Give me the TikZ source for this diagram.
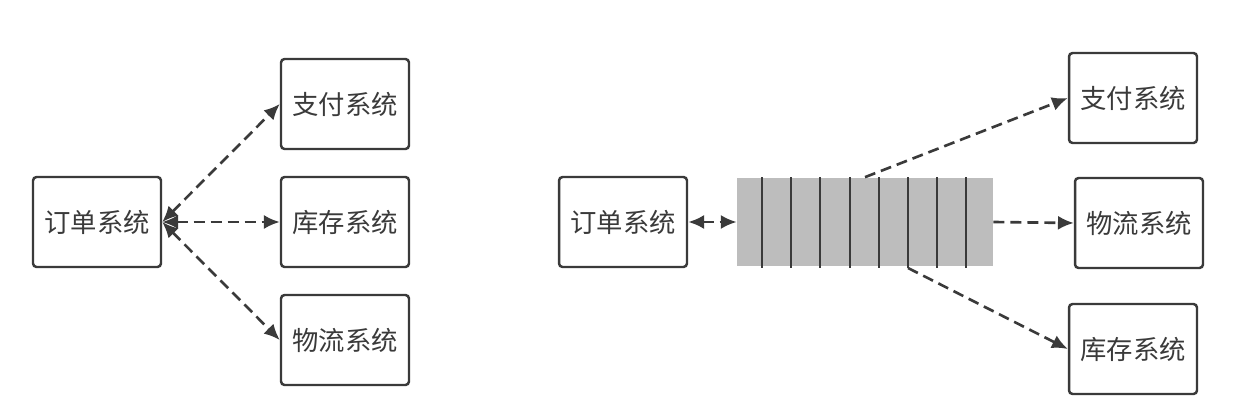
\documentclass[tikz,border=0pt]{standalone}
\usepackage{fontspec}
\setmainfont{Noto Sans CJK SC}
\usetikzlibrary{arrows.meta}
\definecolor{ink}{HTML}{3A3A3A}
\definecolor{slot}{HTML}{BDBDBD}

\begin{document}
\begin{tikzpicture}[x=0.02cm,y=-0.02cm,
    sys/.style={draw=ink,line width=1.4pt,rounded corners=2pt,minimum width=2.56cm,
      minimum height=1.8cm,text=ink,font=\fontsize{15}{17}\selectfont},
    link/.style={draw=ink,line width=1.5pt,dash pattern=on 2.2mm off 1.2mm,
      -{Latex[length=9pt,width=8pt]}},
    both/.style={link,{Latex[length=9pt,width=8pt]}-{Latex[length=9pt,width=8pt]}}]
  \def\gap{29.2}
  \useasboundingbox (0,0) rectangle (1240,412);
  \node[sys] (order) at (97,222) {订单系统};
  \node[sys] (pay) at (345,104) {支付系统};
  \node[sys] (stock) at (345,222) {库存系统};
  \node[sys] (logis) at (345,340) {物流系统};
  \draw[both] (order.east) -- (pay.west);
  \draw[both] (order.east) -- (stock.west);
  \draw[both] (order.east) -- (logis.west);
  \node[sys] (order2) at (623,222) {订单系统};
  \node[fill=slot,inner sep=0pt,minimum width=5.12cm,minimum height=1.78cm] (queue) at (865,222) {};
  \foreach \i in {0,...,7}
    \draw[ink,line width=1.1pt] (762+\gap*\i,177) coordinate (t\i) -- (762+\gap*\i,268) coordinate (b\i);
  \node[sys] (pay2) at (1133,98) {支付系统};
  \node[sys] (logis2) at (1139,223) {物流系统};
  \node[sys] (stock2) at (1133,349) {库存系统};
  \draw[both] (order2.east) -- (queue.west);
  \draw[link] (queue.north) -- (pay2.west);
  \draw[link] (queue.east) -- (logis2.west);
  \draw[link] (b5) -- (stock2.west);
\end{tikzpicture}
\end{document}
